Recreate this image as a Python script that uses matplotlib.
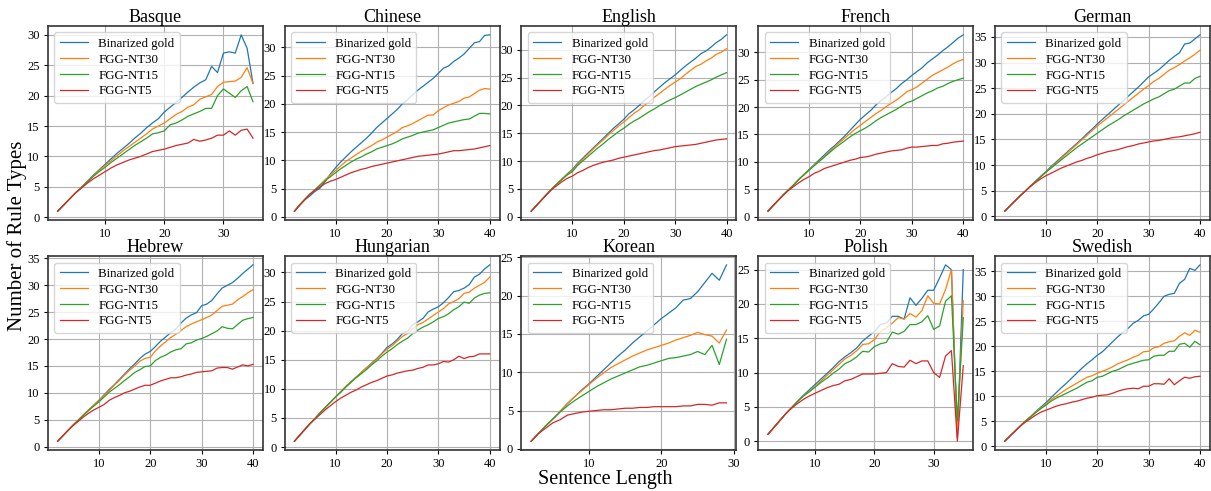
import numpy as np
import matplotlib
matplotlib.use("Agg")
import matplotlib.pyplot as plt
from matplotlib.ticker import MultipleLocator

plt.rcParams['font.family'] = ['Liberation Serif', 'DejaVu Serif']

languages = ["Basque", "Chinese", "English", "French", "German",
             "Hebrew", "Hungarian", "Korean", "Polish", "Swedish"]
series_names = ["Binarized gold", "FGG-NT30", "FGG-NT15", "FGG-NT5"]
start_len = 2

# values per language: gold, NT30, NT15, NT5 (sentence length 2, 3, ...)
basque_gold = [1, 2, 3, 4, 4.9, 5.9, 6.9, 7.8, 8.7,
               9.6, 10.5, 11.3, 12.1, 13, 13.8, 14.7, 15.5, 16.2, 17.3,
               18.1, 18.9, 19.7, 20.6, 21.4, 22.1, 22.6, 24.8, 23.8, 27,
               27.2, 27, 30, 27.8, 22]
basque_nt30 = [1, 2, 3, 4, 4.9, 5.8, 6.8, 7.7, 8.5,
               9.3, 10.1, 10.9, 11.6, 12.3, 13, 13.7, 14.5, 15, 15.5,
               16.2, 16.9, 17.4, 18.1, 18.5, 19.4, 19.8, 20.2, 21.5, 22.2,
               22.3, 22.4, 23, 24.6, 22]
basque_nt15 = [1, 2, 3, 4, 4.9, 5.8, 6.7, 7.5, 8.2,
               9, 9.7, 10.4, 11.1, 11.8, 12.4, 13, 13.7, 13.9, 14.2,
               15.2, 15.5, 16, 16.6, 17, 17.4, 17.9, 17.9, 20, 21.1,
               20.4, 19.7, 20.8, 21.5, 19]
basque_nt5 = [1, 2, 3, 4, 4.8, 5.6, 6.3, 6.9, 7.5,
              8.1, 8.6, 9, 9.4, 9.7, 10, 10.4, 10.8, 11, 11.2,
              11.5, 11.8, 12, 12.2, 12.8, 12.5, 12.7, 13, 13.5, 13.5,
              14.2, 13.5, 14.3, 14.5, 13]

chinese_gold = [1, 2.1, 3, 3.7, 4.5, 5.1, 6.3, 7.6, 8.7,
                9.7, 10.6, 11.5, 12.3, 13.1, 13.9, 14.8, 15.8, 16.6, 17.4,
                18.2, 19, 20, 20.7, 21.6, 22.4, 23.1, 23.8, 24.5, 25.4,
                26.3, 26.7, 27.5, 28.1, 28.8, 29.8, 30.8, 31, 32.1, 32.2]
chinese_nt30 = [1, 2.1, 3.1, 4, 4.8, 5.7, 6.6, 7.4, 8.2,
                9, 9.8, 10.4, 11, 11.6, 12.1, 12.6, 13.2, 13.6, 14.1,
                14.6, 15.1, 15.8, 16.1, 16.5, 17, 17.5, 18, 18, 18.8,
                19.3, 19.8, 20.1, 20.4, 21, 21.2, 21.8, 22.4, 22.7, 22.6]
chinese_nt15 = [1, 2.1, 3.1, 4, 4.8, 5.6, 6.4, 7.1, 7.8,
                8.5, 9.1, 9.7, 10.2, 10.6, 11.1, 11.5, 12, 12.3, 12.6,
                12.9, 13.3, 13.8, 14.1, 14.4, 14.8, 15, 15.2, 15.4, 15.8,
                16.2, 16.6, 16.8, 17, 17.2, 17.3, 17.8, 18.3, 18.3, 18.2]
chinese_nt5 = [1, 2, 3, 4, 4.7, 5.3, 5.9, 6.3, 6.6,
               7, 7.4, 7.8, 8.1, 8.4, 8.6, 8.9, 9.1, 9.3, 9.5,
               9.7, 9.9, 10.1, 10.3, 10.5, 10.7, 10.8, 10.9, 11, 11.1,
               11.3, 11.5, 11.7, 11.7, 11.8, 11.9, 12, 12.2, 12.4, 12.6]

english_gold = [1, 2, 3, 4, 5, 5.9, 6.8, 7.7, 8.5,
                9.6, 10.5, 11.4, 12.3, 13.2, 14.1, 15, 15.9, 16.7, 17.5,
                18.5, 19.2, 20, 20.9, 21.6, 22.5, 23.3, 24.1, 24.8, 25.5,
                26.3, 27.1, 27.8, 28.5, 29.3, 29.8, 30.5, 31.3, 31.9, 32.7]
english_nt30 = [1, 2, 3, 4, 5, 5.9, 6.8, 7.6, 8.3,
                9.4, 10.3, 11.2, 12.1, 13, 13.8, 14.7, 15.5, 16.3, 17,
                17.8, 18.6, 19.2, 20, 20.7, 21.5, 22.2, 22.9, 23.6, 24.2,
                24.8, 25.6, 26.3, 27, 27.4, 28, 28.5, 29.2, 29.6, 30.2]
english_nt15 = [1, 2, 3, 4, 5, 5.9, 6.7, 7.5, 8.1,
                9.2, 10, 10.8, 11.6, 12.4, 13.1, 13.9, 14.6, 15.3, 15.9,
                16.6, 17.2, 17.7, 18.3, 18.9, 19.4, 20, 20.5, 21, 21.4,
                21.9, 22.4, 22.9, 23.4, 23.8, 24.2, 24.6, 25.1, 25.5, 25.9]
english_nt5 = [1, 2, 3, 4, 4.9, 5.6, 6.3, 6.9, 7.3,
               7.9, 8.3, 8.8, 9.2, 9.5, 9.8, 10, 10.2, 10.5, 10.7,
               10.9, 11.1, 11.3, 11.5, 11.7, 11.9, 12, 12.2, 12.4, 12.6,
               12.7, 12.8, 12.9, 13, 13.2, 13.4, 13.6, 13.8, 13.9, 14]

french_gold = [1, 2, 3, 4, 4.9, 5.8, 6.8, 7.7, 8.6,
               9.5, 10.4, 11.3, 12.2, 13, 13.9, 14.8, 15.8, 16.8, 17.8,
               18.6, 19.4, 20.4, 21.2, 21.9, 22.7, 23.4, 24.3, 25, 25.8,
               26.5, 27.2, 28.1, 28.8, 29.5, 30.3, 31, 31.8, 32.6, 33.2]
french_nt30 = [1, 2, 3, 4, 4.9, 5.8, 6.8, 7.7, 8.5,
               9.4, 10.2, 11, 11.9, 12.8, 13.6, 14.4, 15.2, 16, 16.7,
               17.4, 18.1, 18.8, 19.4, 20.1, 20.7, 21.3, 22, 22.8, 23.2,
               23.7, 24.4, 25.1, 25.8, 26.3, 26.8, 27.3, 27.9, 28.4, 28.7]
french_nt15 = [1, 2, 3, 4, 4.9, 5.8, 6.8, 7.6, 8.5,
               9.3, 10.1, 10.9, 11.7, 12.5, 13.2, 13.9, 14.6, 15.2, 15.7,
               16.2, 16.8, 17.5, 18.1, 18.6, 19.1, 19.6, 20.2, 20.8, 21.1,
               21.6, 22.1, 22.6, 23, 23.5, 23.8, 24.3, 24.7, 25, 25.3]
french_nt5 = [1, 2, 3, 3.9, 4.8, 5.5, 6.2, 6.8, 7.3,
              7.9, 8.3, 8.8, 9.1, 9.4, 9.7, 10, 10.3, 10.5, 10.8,
              10.9, 11.1, 11.4, 11.6, 11.8, 12, 12.1, 12.2, 12.5, 12.7,
              12.7, 12.8, 12.9, 13, 13, 13.3, 13.4, 13.6, 13.7, 13.8]

german_gold = [1, 2, 3, 4, 4.9, 5.9, 6.8, 7.8, 8.7,
               9.7, 10.6, 11.5, 12.4, 13.3, 14.2, 15.1, 16.1, 17, 18,
               18.9, 19.8, 20.7, 21.6, 22.5, 23.4, 24.3, 25.2, 26.2, 27.2,
               27.9, 28.6, 29.5, 30.4, 31.2, 31.9, 33.6, 33.8, 34.6, 35.4]
german_nt30 = [1, 2, 3, 4, 4.9, 5.9, 6.8, 7.7, 8.6,
               9.5, 10.4, 11.3, 12.2, 13.1, 14, 14.9, 15.8, 16.7, 17.6,
               18.4, 19.2, 20, 20.8, 21.6, 22.4, 23.2, 24, 24.8, 25.5,
               26.3, 26.9, 27.7, 28.5, 29, 29.6, 30.3, 30.9, 31.6, 32.4]
german_nt15 = [1, 2, 3, 4, 4.9, 5.9, 6.8, 7.7, 8.6,
               9.4, 10.2, 11, 11.8, 12.6, 13.4, 14.1, 14.8, 15.5, 16.2,
               16.9, 17.6, 18.2, 18.8, 19.5, 20.1, 20.7, 21.3, 21.9, 22.4,
               22.9, 23.3, 23.9, 24.5, 24.8, 25.4, 26, 26, 26.9, 27.3]
german_nt5 = [1, 2, 3, 4, 4.9, 5.8, 6.6, 7.3, 7.9,
              8.4, 8.9, 9.4, 9.8, 10.2, 10.6, 10.9, 11.3, 11.6, 12,
              12.3, 12.6, 12.8, 13, 13.3, 13.6, 13.8, 14.1, 14.3, 14.5,
              14.7, 14.8, 15, 15.2, 15.4, 15.5, 15.7, 15.9, 16.1, 16.4]

hebrew_gold = [1, 2, 3, 4, 4.9, 5.9, 6.8, 7.7, 8.6,
               9.6, 10.6, 11.5, 12.5, 13.5, 14.5, 15.4, 16.4, 17.2, 17.7,
               18.6, 19.6, 20.4, 21.2, 21.9, 23, 23.9, 24.5, 24.9, 26.2,
               26.5, 27.2, 28.4, 29.5, 30, 30.5, 31.3, 32.2, 33, 33.8]
hebrew_nt30 = [1, 2, 3, 4, 4.9, 5.9, 6.8, 7.7, 8.5,
               9.5, 10.4, 11.4, 12.3, 13.3, 14.2, 15, 15.9, 16.4, 16.6,
               17.8, 18.7, 19.5, 20.3, 20.9, 21.6, 22.3, 22.8, 23.2, 23.6,
               24, 24.5, 25.3, 26.1, 26.3, 26.5, 27.3, 27.9, 28.6, 29.2]
hebrew_nt15 = [1, 2, 3, 4, 4.9, 5.8, 6.7, 7.5, 8.3,
               9.2, 10.1, 10.8, 11.5, 12.3, 13, 13.8, 14.3, 14.9, 15,
               16, 16.6, 17, 17.6, 18, 18.2, 19.1, 19.3, 19.8, 20.1,
               20.5, 21, 21.5, 22.3, 22, 21.9, 22.7, 23.5, 23.8, 24]
hebrew_nt5 = [1, 2, 3, 3.9, 4.7, 5.5, 6.2, 6.8, 7.3,
              7.8, 8.6, 9.1, 9.5, 10, 10.3, 10.7, 11.1, 11.4, 11.4,
              11.8, 12.2, 12.5, 12.8, 12.8, 13, 13.3, 13.5, 13.8, 13.9,
              14, 14.1, 14.6, 14.7, 14.7, 14.4, 14.8, 15.2, 15, 15.3]

hungarian_gold = [1, 2, 3, 4, 4.9, 5.9, 6.8, 7.7, 8.6,
                  9.5, 10.4, 11.2, 12, 12.8, 13.6, 14.4, 15.2, 16.1, 17.1,
                  17.7, 18.5, 19.5, 19.9, 21, 21.5, 22.1, 23.2, 23.7, 24.1,
                  24.8, 25.7, 26.7, 26.9, 27.3, 27.9, 29.2, 29.7, 30.6, 31.3]
hungarian_nt30 = [1, 2, 3, 4, 4.9, 5.9, 6.8, 7.7, 8.6,
                  9.5, 10.4, 11.2, 12, 12.8, 13.6, 14.3, 15.1, 16, 16.8,
                  17.4, 18.2, 19, 19.5, 20.3, 21, 21.4, 22, 22.6, 23.2,
                  23.8, 24.6, 25, 25.5, 26.4, 26.6, 27.3, 27.8, 28.3, 29.2]
hungarian_nt15 = [1, 2, 3, 4, 4.9, 5.9, 6.8, 7.7, 8.6,
                  9.4, 10.3, 11.1, 11.9, 12.6, 13.3, 14.1, 14.8, 15.6, 16.3,
                  16.9, 17.6, 18.2, 18.7, 19.5, 20.1, 20.6, 21, 21.5, 22.1,
                  22.4, 22.9, 23.6, 24.1, 24.9, 24.7, 25.6, 26.1, 26.4, 26.5]
hungarian_nt5 = [1, 2, 3, 4, 4.8, 5.6, 6.4, 7.1, 7.8,
                 8.4, 8.9, 9.4, 9.8, 10.3, 10.7, 11.1, 11.4, 11.8, 12.2,
                 12.4, 12.7, 12.9, 13.1, 13.2, 13.5, 13.7, 14.1, 14.1, 14.3,
                 14.7, 14.6, 15, 15.6, 15.2, 15.5, 15.6, 16, 16, 16]

korean_gold = [1, 2, 3, 3.9, 4.9, 5.9, 6.8, 7.7, 8.5,
               9.4, 10.3, 11.2, 12.1, 12.9, 13.8, 14.6, 15.4, 16.2, 17,
               17.7, 18.4, 19.4, 19.6, 20.5, 21.7, 22.9, 22, 24]
korean_nt30 = [1, 2, 3, 3.9, 4.9, 5.9, 6.8, 7.6, 8.4,
               9.2, 9.9, 10.6, 11.1, 11.6, 12.1, 12.5, 12.9, 13.2, 13.5,
               13.8, 14.2, 14.5, 14.8, 15.2, 14.9, 14.7, 13.8, 15.5]
korean_nt15 = [1, 2, 3, 3.9, 4.8, 5.6, 6.3, 6.9, 7.5,
               8.1, 8.6, 9.1, 9.5, 9.9, 10.3, 10.7, 10.9, 11.2, 11.5,
               11.8, 11.9, 12.1, 12.3, 12.7, 12.3, 13.5, 11, 14.3]
korean_nt5 = [1, 2, 2.7, 3.4, 3.8, 4.4, 4.6, 4.8, 4.9,
              5, 5.1, 5.1, 5.2, 5.3, 5.3, 5.4, 5.4, 5.5, 5.5,
              5.5, 5.5, 5.6, 5.6, 5.8, 5.8, 5.7, 6, 6]

polish_gold = [1, 2, 3, 4, 4.9, 5.8, 6.7, 7.5, 8.3,
               9.1, 9.9, 10.7, 11.6, 12.3, 12.9, 13.6, 14.6, 15.3, 16,
               17, 17.2, 18.2, 18.2, 17.8, 20.9, 19.8, 20.8, 22, 22,
               23.8, 25.7, 25, 0.5, 25]
polish_nt30 = [1, 2, 3, 4, 4.9, 5.8, 6.6, 7.3, 8,
               8.8, 9.6, 10.4, 11.2, 12, 12.5, 13.2, 14.1, 14.2, 14.8,
               16, 16.5, 17.2, 18, 17.8, 18.6, 18.1, 19, 21.2, 20.1,
               20, 22.1, 25, 1, 20.5]
polish_nt15 = [1, 2, 3, 4, 4.9, 5.8, 6.6, 7.2, 7.9,
               8.6, 9.2, 9.9, 10.5, 11.3, 11.7, 12.3, 13.1, 13, 13.8,
               14.2, 14.4, 15.9, 15.6, 16, 17, 17, 17.4, 18.3, 16.3,
               16.8, 20.4, 21.2, 3, 18]
polish_nt5 = [1, 2, 3, 4, 4.8, 5.5, 6.1, 6.6, 7,
              7.4, 7.8, 8.1, 8.3, 8.8, 9, 9.4, 9.8, 9.8, 9.8,
              9.9, 10, 11.3, 10.9, 10.8, 11.8, 11.3, 11.7, 11.7, 10,
              9.3, 12.4, 13.2, 0, 11]

swedish_gold = [1, 2, 3, 4, 5, 5.9, 6.9, 7.8, 8.7,
                9.7, 10.7, 11.7, 12.6, 13.6, 14.6, 15.6, 16.5, 17.3, 18.2,
                18.9, 19.9, 20.9, 21.9, 22.8, 23.6, 24.6, 25.2, 26.1, 26.4,
                27.5, 28.7, 30, 30.4, 30.6, 32.6, 33.4, 35.6, 35.2, 36.3]
swedish_nt30 = [1, 2, 3, 4, 5, 5.9, 6.8, 7.6, 8.4,
                9.3, 10, 10.7, 11.4, 12, 12.6, 13.2, 13.8, 14.1, 14.6,
                15, 15.4, 15.9, 16.5, 16.9, 17.3, 17.8, 18.2, 18.9, 19,
                19.7, 19.9, 20.6, 20.9, 21.1, 22, 22.7, 22.2, 23.2, 22.8]
swedish_nt15 = [1, 2, 3, 4, 5, 5.8, 6.7, 7.5, 8.2,
                9, 9.6, 10.1, 10.6, 11.1, 11.6, 12.2, 12.8, 13.1, 13.8,
                14, 14.5, 15, 15.3, 15.8, 16.3, 16.6, 16.9, 17.2, 17.3,
                18, 18.2, 18.2, 19, 19, 20.4, 20.6, 19.8, 21, 20.3]
swedish_nt5 = [1, 2, 3, 4, 4.8, 5.5, 6.2, 6.8, 7.2,
               7.6, 8, 8.3, 8.5, 8.8, 9, 9.3, 9.6, 9.8, 10.1,
               10.2, 10.3, 10.6, 11, 11.3, 11.5, 11.6, 11.5, 12, 12,
               12.5, 12.5, 12.4, 13.5, 12.3, 13.1, 13.8, 13.6, 13.9, 14]

data = {
    "Basque": [basque_gold, basque_nt30, basque_nt15, basque_nt5],
    "Chinese": [chinese_gold, chinese_nt30, chinese_nt15, chinese_nt5],
    "English": [english_gold, english_nt30, english_nt15, english_nt5],
    "French": [french_gold, french_nt30, french_nt15, french_nt5],
    "German": [german_gold, german_nt30, german_nt15, german_nt5],
    "Hebrew": [hebrew_gold, hebrew_nt30, hebrew_nt15, hebrew_nt5],
    "Hungarian": [hungarian_gold, hungarian_nt30, hungarian_nt15, hungarian_nt5],
    "Korean": [korean_gold, korean_nt30, korean_nt15, korean_nt5],
    "Polish": [polish_gold, polish_nt30, polish_nt15, polish_nt5],
    "Swedish": [swedish_gold, swedish_nt30, swedish_nt15, swedish_nt5],
}

colors = ['#1f77b4', '#ff7f0e', '#2ca02c', '#d62728']

fig, axes = plt.subplots(2, 5, figsize=(12.11, 4.91), dpi=100)
fig.subplots_adjust(left=0.0396, right=0.999, top=0.947, bottom=0.0835,
                    wspace=0.102, hspace=0.186)

for ax, lang in zip(axes.flatten(), languages):
    for vals, name, c in zip(data[lang], series_names, colors):
        x = np.arange(start_len, start_len + len(vals))
        ax.plot(x, vals, color=c, lw=0.9, label=name)
    ax.set_title(lang, fontsize=13, pad=3)
    ax.yaxis.set_major_locator(MultipleLocator(5))
    ax.grid(True, color='#b0b0b0', lw=0.8)
    ax.tick_params(labelsize=9, length=3, pad=3)
    for sp in ax.spines.values():
        sp.set_color('#333333')
        sp.set_linewidth(1.2)
    ax.legend(loc='upper left', fontsize=9.3, handlelength=2.2,
              borderpad=0.4, labelspacing=0.3, handletextpad=0.8)

fig.text(0.5, 0.004, "Sentence Length", ha='center', va='bottom', fontsize=14.5)
fig.text(0.006, 0.52, "Number of Rule Types", ha='left', va='center',
         rotation=90, fontsize=15)

fig.savefig("out.png", dpi=100)
